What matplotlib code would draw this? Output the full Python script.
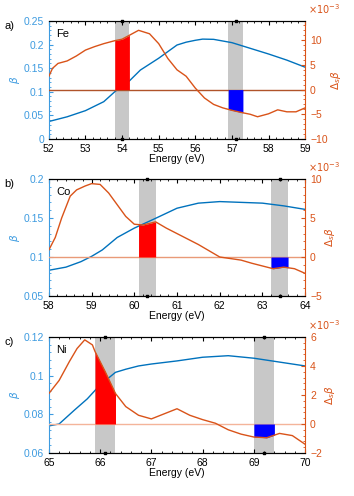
import numpy as np
import matplotlib.pyplot as plt
from matplotlib.ticker import AutoMinorLocator

plt.rcParams['font.family'] = ['Liberation Sans', 'DejaVu Sans']
plt.rcParams['font.size'] = 7.5

blue = '#0072BD'
orange = '#D95319'

# Fe
fe_x = [52.0, 52.5, 53.0, 53.5, 53.8, 54.0, 54.2, 54.5, 55.0, 55.5, 55.75, 56.0, 56.2, 56.5, 57.0, 57.5, 58.0, 58.5, 59.0]
fe_beta = [0.037, 0.047, 0.060, 0.079, 0.100, 0.112, 0.123, 0.146, 0.171, 0.199, 0.205, 0.209, 0.2115, 0.211, 0.204, 0.192, 0.180, 0.167, 0.152]
fe_dx = [52.0, 52.1, 52.25, 52.5, 52.75, 53.0, 53.25, 53.5, 53.8, 54.0, 54.2, 54.45, 54.75, 55.0, 55.25, 55.5, 55.75,
         56.0, 56.25, 56.5, 56.75, 57.0, 57.3, 57.5, 57.7, 58.0, 58.25, 58.5, 58.75, 59.0]
fe_d = [2.7, 4.3, 5.3, 5.8, 6.8, 8.0, 8.7, 9.3, 9.9, 10.2, 11.0, 12.0, 11.3, 9.3, 6.3, 4.0, 2.7,
        0.3, -1.7, -3.0, -3.7, -4.2, -4.7, -5.0, -5.5, -4.9, -4.1, -4.5, -4.5, -3.7]

# Co
co_x = [58.0, 58.4, 58.75, 59.0, 59.25, 59.6, 60.0, 60.5, 61.0, 61.5, 62.0, 62.5, 63.0, 63.5, 64.0]
co_beta = [0.083, 0.087, 0.094, 0.1008, 0.109, 0.125, 0.137, 0.1496, 0.1625, 0.169, 0.171, 0.170, 0.169, 0.1655, 0.161]
co_dx = [58.0, 58.15, 58.3, 58.5, 58.65, 58.85, 59.0, 59.2, 59.4, 59.6, 59.8, 60.0, 60.2, 60.5, 60.75, 61.0,
         61.25, 61.5, 61.75, 62.0, 62.25, 62.5, 62.75, 63.0, 63.25, 63.5, 63.75, 64.0]
co_d = [0.9, 2.5, 5.0, 7.8, 8.6, 9.1, 9.4, 9.3, 8.2, 6.7, 5.2, 4.2, 4.1, 4.5, 3.7, 3.0,
        2.3, 1.6, 0.8, 0.0, -0.2, -0.4, -0.8, -1.15, -1.5, -1.3, -1.5, -2.1]

# Ni
ni_x = [65.0, 65.2, 65.5, 65.75, 66.0, 66.3, 66.5, 66.75, 67.0, 67.5, 68.0, 68.5, 69.0, 69.5, 70.0]
ni_beta = [0.074, 0.075, 0.0822, 0.088, 0.0952, 0.1017, 0.1033, 0.105, 0.106, 0.1076, 0.1095, 0.1103, 0.109, 0.107, 0.105]
ni_dx = [65.0, 65.2, 65.4, 65.55, 65.7, 65.85, 65.9, 66.1, 66.3, 66.5, 66.75, 67.0, 67.25, 67.5, 67.75,
         68.0, 68.25, 68.5, 68.75, 69.0, 69.25, 69.5, 69.75, 70.0]
ni_d = [2.1, 3.0, 4.3, 5.2, 5.8, 5.45, 5.0, 3.6, 2.1, 1.2, 0.6, 0.35, 0.7, 1.05, 0.6,
        0.3, 0.05, -0.4, -0.7, -0.9, -0.95, -0.65, -0.8, -1.4]

panels = [
    dict(tag='a)', el='Fe', x=fe_x, b=fe_beta, dx=fe_dx, d=fe_d, xlim=(52, 59),
         ylim=(0, 0.25), yt=[0, 0.05, 0.1, 0.15, 0.2, 0.25], rlim=(-10, 13.9), rt=[-10, -5, 0, 5, 10],
         bands=[(53.8, 54.2), (56.9, 57.3)], zc='#b0532a', pos=[0.138, 0.7198, 0.724, 0.238]),
    dict(tag='b)', el='Co', x=co_x, b=co_beta, dx=co_dx, d=co_d, xlim=(58, 64),
         ylim=(0.05, 0.2), yt=[0.05, 0.1, 0.15, 0.2], rlim=(-5, 10), rt=[-5, 0, 5, 10],
         bands=[(60.1, 60.5), (63.2, 63.6)], zc='#e99a78', pos=[0.138, 0.4032, 0.724, 0.236]),
    dict(tag='c)', el='Ni', x=ni_x, b=ni_beta, dx=ni_dx, d=ni_d, xlim=(65, 70),
         ylim=(0.06, 0.12), yt=[0.06, 0.08, 0.1, 0.12], rlim=(-2, 6), rt=[-2, 0, 2, 4, 6],
         bands=[(65.9, 66.3), (69.0, 69.4)], zc='#f4b49a', pos=[0.138, 0.0867, 0.724, 0.234]),
]

fig = plt.figure(figsize=(3.54, 4.96), dpi=100)

for p in panels:
    ax = fig.add_axes(p['pos'])
    ax.set_xlim(p['xlim'])
    ax.set_ylim(p['ylim'])
    for lo, hi in p['bands']:
        ax.axvspan(lo, hi, color='#c8c8c8', lw=0, zorder=0)
    ax.plot(p['x'], p['b'], color=blue, lw=1.0, zorder=2)
    ax.set_yticks(p['yt'])
    ax.set_yticklabels(['%g' % v for v in p['yt']])
    ax.tick_params(axis='y', colors='#3d9be0', direction='in', which='both', labelcolor='#3d9be0')
    ax.tick_params(axis='x', direction='in', which='both', top=True)
    ax.tick_params(which='major', length=3)
    ax.tick_params(which='minor', length=1.5)
    ax.xaxis.set_minor_locator(AutoMinorLocator(5))
    ax.yaxis.set_minor_locator(AutoMinorLocator(5))
    ax.spines['left'].set_color('#3d9be0')
    ax.spines['right'].set_visible(False)
    ax.set_xlabel('Energy (eV)', labelpad=0)
    ax.set_ylabel(r'$\beta$', color='#3d9be0', labelpad=1)
    ax.text(0.03, 0.93, p['el'], transform=ax.transAxes, ha='left', va='top', fontsize=8)
    ax.text(-0.175, 1.0, p['tag'], transform=ax.transAxes, ha='left', va='top', fontsize=8)

    ax2 = ax.twinx()
    ax2.set_ylim(p['rlim'])
    ax2.set_yticks(p['rt'])
    ax2.axhline(0, color=p['zc'], lw=1.0, zorder=1)
    for (lo, hi), fc in zip(p['bands'], ['red', 'blue']):
        xs = np.linspace(lo, hi, 40)
        ys = np.interp(xs, p['dx'], p['d'])
        ax2.fill_between(xs, 0, ys, color=fc, lw=0, zorder=2)
    ax2.plot(p['dx'], p['d'], color=orange, lw=1.0, zorder=3)
    ax2.tick_params(axis='y', colors=orange, direction='in', which='both', labelcolor=orange)
    ax2.tick_params(which='major', length=3)
    ax2.tick_params(which='minor', length=1.5)
    ax2.yaxis.set_minor_locator(AutoMinorLocator(5))
    ax2.spines['right'].set_color(orange)
    ax2.spines['left'].set_visible(False)
    ax2.set_ylabel(r'$\Delta_s\beta$', color=orange, labelpad=1)
    ax2.text(1.01, 1.045, r'$\times10^{-3}$', transform=ax2.transAxes, ha='left', va='bottom',
             color=orange, fontsize=7)

    # band centre markers on top and bottom spines
    cx = [(lo + hi) / 2 for lo, hi in p['bands']]
    for yv in p['ylim']:
        ax.scatter(cx, [yv] * len(cx), s=4, color='black', marker='s', clip_on=False, zorder=5)

fig.savefig('out.png', dpi=100)
